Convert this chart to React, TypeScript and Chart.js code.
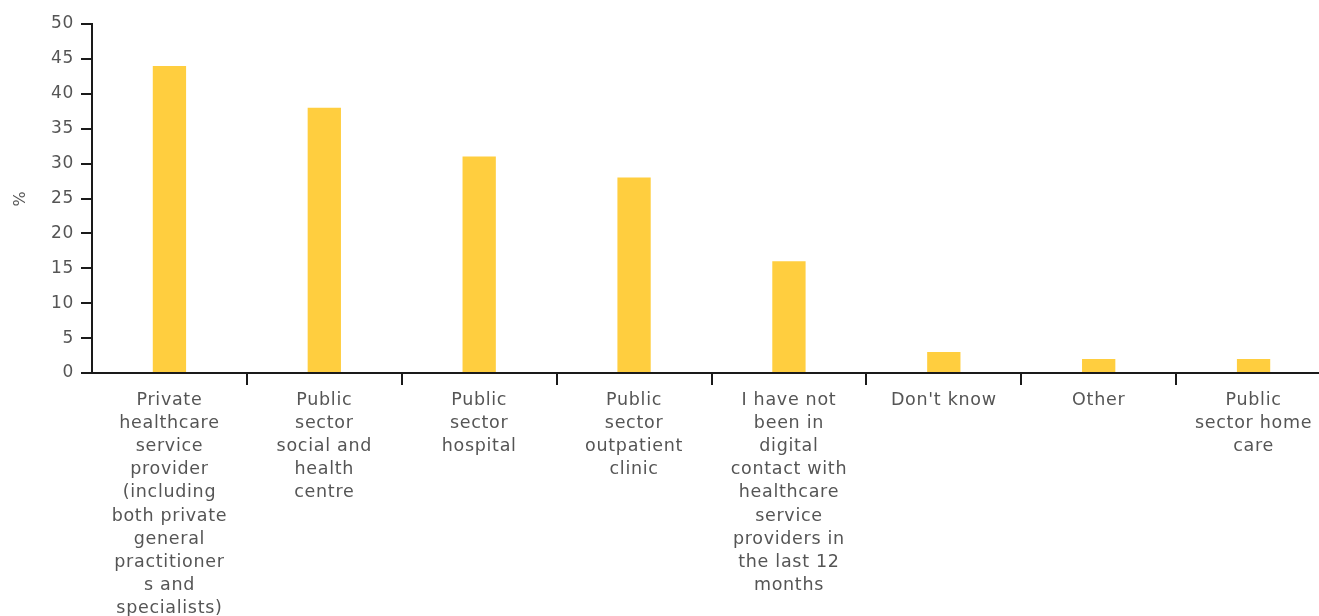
import React, { useEffect, useRef } from "react";
import { Chart, registerables } from "chart.js";

Chart.register(...registerables);

const categories: string[][] = [
  ["Private", "healthcare", "service", "provider", "(including", "both private", "general", "practitioner", "s and", "specialists)"],
  ["Public", "sector", "social and", "health", "centre"],
  ["Public", "sector", "hospital"],
  ["Public", "sector", "outpatient", "clinic"],
  ["I have not", "been in", "digital", "contact with", "healthcare", "service", "providers in", "the last 12", "months"],
  ["Don't know"],
  ["Other"],
  ["Public", "sector home", "care"],
];

const values: number[] = [44, 38, 31, 28, 16, 3, 2, 2];

const yTicks: number[] = [0, 5, 10, 15, 20, 25, 30, 35, 40, 45, 50];

const FONT = "'DejaVu Sans', sans-serif";

const spacingPlugin = {
  id: "letterSpacing",
  beforeInit(chart: any) {
    try {
      chart.ctx.letterSpacing = "0.7px";
    } catch (e) {}
  },
  beforeDraw(chart: any) {
    try {
      chart.ctx.letterSpacing = "0.7px";
    } catch (e) {}
  },
};

export default function App() {
  const ref = useRef<HTMLCanvasElement | null>(null);

  useEffect(() => {
    document.body.style.margin = "0";
    const canvas = ref.current;
    if (!canvas) return;
    const chart = new Chart(canvas, {
      type: "bar",
      plugins: [spacingPlugin],
      data: {
        labels: categories,
        datasets: [
          {
            data: values,
            backgroundColor: "#FFCE3F",
            categoryPercentage: 1,
            barPercentage: 0.215,
          },
        ],
      },
      options: {
        animation: false,
        responsive: false,
        maintainAspectRatio: false,
        layout: { padding: { top: 24, left: 0, right: 0, bottom: 0 } },
        plugins: {
          legend: { display: false },
          tooltip: { enabled: false },
        },
        scales: {
          x: {
            offset: true,
            border: { display: true, color: "#1a1a1a", width: 2 },
            grid: {
              offset: true,
              drawOnChartArea: false,
              drawTicks: true,
              tickLength: 12,
              lineWidth: 2,
              color: (ctx: any) => (ctx.index === 0 ? "rgba(0,0,0,0)" : "#1a1a1a"),
            },
            ticks: {
              autoSkip: false,
              maxRotation: 0,
              minRotation: 0,
              color: "#555555",
              padding: 4,
              font: { family: FONT, size: 17.5, lineHeight: 1.32 },
            },
            afterFit: (scale: any) => {
              scale.height = 243;
            },
          },
          y: {
            min: 0,
            max: 50,
            afterBuildTicks: (scale: any) => {
              scale.ticks = yTicks.map((v) => ({ value: v }));
            },
            border: { display: true, color: "#1a1a1a", width: 2 },
            grid: {
              drawOnChartArea: false,
              drawTicks: true,
              tickLength: 11,
              lineWidth: 2,
              color: "#1a1a1a",
            },
            ticks: {
              color: "#555555",
              padding: 7,
              font: { family: FONT, size: 17 },
            },
            title: {
              display: true,
              text: "%",
              color: "#555555",
              font: { family: FONT, size: 16 },
              padding: { top: 11, bottom: 0 },
            },
            afterFit: (scale: any) => {
              scale.width = 92;
            },
          },
        },
      },
    });
    return () => chart.destroy();
  }, []);

  return (
    <div style={{ position: "fixed", left: 0, top: 0, width: 1319, height: 616, overflow: "hidden", background: "#fff" }}>
      <canvas ref={ref} width={1331} height={616} style={{ display: "block", width: 1331, height: 616 }} />
    </div>
  );
}
